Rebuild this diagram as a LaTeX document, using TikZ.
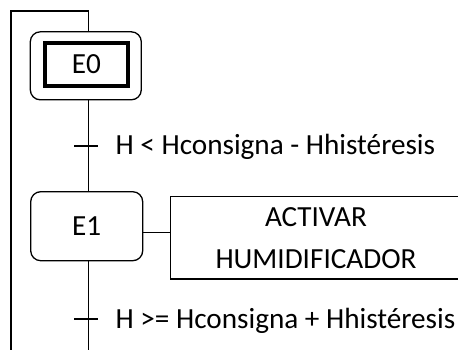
\documentclass[tikz,border=0pt]{standalone}
\usepackage{fontspec}
\setmainfont{Carlito}
\begin{document}
\begin{tikzpicture}[x=1pt,y=-1pt, line width=1.3pt,
  lbl/.style={font=\fontsize{29.2}{35}\selectfont, inner sep=0pt},
  stepbox/.style={draw, rounded corners=10pt, line width=1.3pt, minimum width=112pt, minimum height=69pt, inner sep=0pt},
  initbox/.style={draw, line width=4pt, minimum width=83pt, minimum height=43pt, inner sep=0pt},
  actbox/.style={draw, line width=1.3pt, minimum width=290.6pt, minimum height=82.3pt, inner sep=0pt, align=center,
    font=\fontsize{29.2}{41.7}\selectfont}]
\useasboundingbox (0,0) rectangle (458,349);
\clip (0,0) rectangle (458,349);

% initial step E0 (double frame)
\node[stepbox, minimum width=111pt, minimum height=68pt] (E0) at (85.8,65.8) {};
\node[initbox, lbl] (E0in) at (86.3,64.3) {E0};

% step E1
\node[stepbox, lbl] (E1) at (86.7,226.2) {E1};

% action attached to E1
\node[actbox] (act) at (316,237.8) {ACTIVAR\\HUMIDIFICADOR};

% loop-back and main flow
\coordinate (top) at (88.3,11);
\coordinate (topL) at (11,11);
\coordinate (botL) at (11,352);
\coordinate (botR) at (88.3,352);
\draw (botL) -- (topL) -- (top) -- (top |- E0.north);
\draw (top |- E0.south) -- (top |- E1.north);
\draw (top |- E1.south) -- (botR);

% transitions
\coordinate (t1) at (88.3,146);
\coordinate (t2) at (88.3,319);
\draw ([xshift=-14pt]t1) -- ([xshift=10pt]t1);
\draw ([xshift=-14pt]t2) -- ([xshift=10pt]t2);
\node[lbl, anchor=west] (c1) at (115,147) {H < Hconsigna - Hhistéresis};
\node[lbl, anchor=west] (c2) at (115,321) {H >= Hconsigna + Hhistéresis};

% link step to action
\draw (E1.east |- 0,232.7) -- (act.west |- 0,232.7);
\end{tikzpicture}
\end{document}
